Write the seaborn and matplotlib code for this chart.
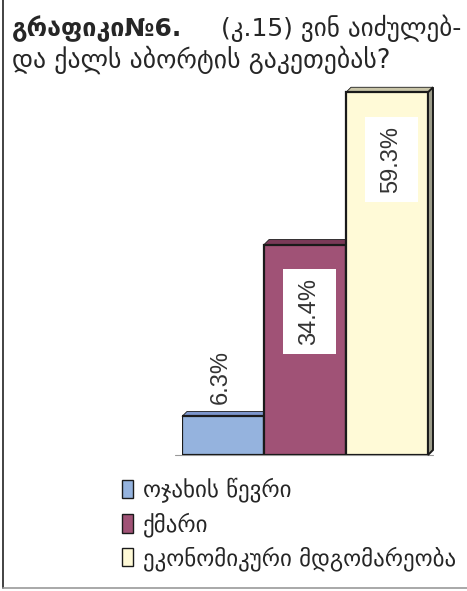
import matplotlib
matplotlib.use('Agg')
import matplotlib.pyplot as plt
import seaborn as sns
import pandas as pd
from matplotlib.patches import Patch, Polygon, Rectangle
from matplotlib.lines import Line2D
from matplotlib.transforms import IdentityTransform

# data
categories = ['ოჯახის წევრი', 'ქმარი', 'ეკონომიკური მდგომარეობა']
values = [6.3, 34.4, 59.3]
value_labels = ['6.3%', '34.4%', '59.3%']
bar_colors = ['#95B3DE', '#A05276', '#FFFAD7']
top_colors = ['#7D96CC', '#7A3A58', '#C9C5A8']
side_color = '#9C9C8A'

sns.set_style('white')
plt.rcParams['font.family'] = ['DejaVu Sans']

W, H = 467, 591
fig = plt.figure(figsize=(W / 100, H / 100), dpi=100)
ax = fig.add_axes([182 / W, 136 / H, 246 / W, 367 / H])

df = pd.DataFrame({'cat': categories, 'val': values})
sns.barplot(data=df, x='cat', y='val', hue='cat', palette=bar_colors, width=1.0,
            saturation=1, edgecolor='#1a1a1a', linewidth=1.6, legend=False, ax=ax)
ax.set_xlim(-0.5, 2.5)
ax.set_ylim(0, 60)
ax.axis('off')

# fake 3D: top faces (and right side of last bar)
dx, dy = 5, 5
for i, p in enumerate(ax.patches[:len(values)]):
    x0, y0 = ax.transData.transform((p.get_x(), 0))
    x1, y1 = ax.transData.transform((p.get_x() + p.get_width(), p.get_height()))
    top = [(x0, y1), (x1, y1), (x1 + dx, y1 + dy), (x0 + dx, y1 + dy)]
    ax.add_patch(Polygon(top, closed=True, fc=top_colors[i], ec='#1a1a1a', lw=0.6,
                         transform=IdentityTransform(), zorder=0.5, clip_on=False))
    if i == len(values) - 1:
        side = [(x1, y0), (x1 + dx, y0 + dy), (x1 + dx, y1 + dy), (x1, y1)]
        ax.add_patch(Polygon(side, closed=True, fc=side_color, ec='#1a1a1a', lw=1.4,
                             transform=IdentityTransform(), zorder=0.5, clip_on=False))

ax.axhline(0, xmin=-0.03, xmax=1.02, color='#999999', lw=0.8, clip_on=False, zorder=0.4)

# value labels
num_font = dict(family='Liberation Sans', fontsize=17, color='#333333')
ax.annotate(value_labels[0], (0, values[0]), xytext=(-2, 12), textcoords='offset pixels',
            rotation=90, ha='center', va='bottom', **num_font)
for i in range(1, len(values)):
    cx, cy = ax.transData.transform((i, values[i] - 11))
    cx += 4
    ax.add_patch(Rectangle((cx - 26.5, cy - 42.5), 53, 85, fc='white', ec='none',
                           transform=IdentityTransform(), zorder=2, clip_on=False))
    ax.annotate(value_labels[i], (i, values[i] - 11), xytext=(4, 0), textcoords='offset pixels',
                rotation=90, ha='center', va='center', zorder=3, **num_font)

# title
fig.text(12 / W, 1 - 36 / H, 'გრაფიკი№6.', fontsize=18, fontweight='bold', va='baseline')
fig.text(461 / W, 1 - 36 / H, '(კ.15) ვინ აიძულებ-', fontsize=18, va='baseline', ha='right')
fig.text(12 / W, 1 - 68 / H, 'და ქალს აბორტის გაკეთებას?', fontsize=18.5, va='baseline')

# legend
handles = [Patch(fc=c, ec='#1a1a1a', lw=1.0) for c in bar_colors]
fig.legend(handles, categories, loc='upper left', bbox_to_anchor=(122 / W, 1 - 478 / H),
           frameon=False, fontsize=16.5, handlelength=0.5, handleheight=0.85,
           handletextpad=0.4, labelspacing=0.4, borderpad=0, borderaxespad=0)

# frame lines
fig.add_artist(Line2D([3 / W, 3 / W], [3 / H, 1], color='#222222', lw=1.2))
fig.add_artist(Line2D([3 / W, 1], [3 / H, 3 / H], color='#999999', lw=1.2))

fig.savefig('out.png', dpi=100)
